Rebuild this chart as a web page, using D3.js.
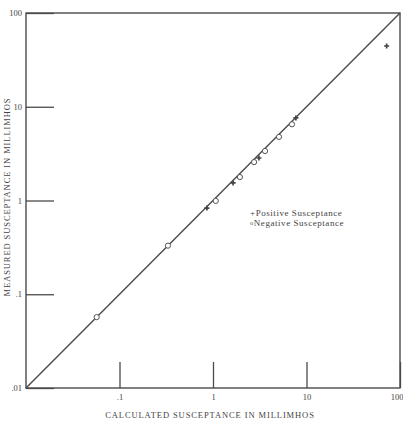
<!DOCTYPE html>
<html><head><meta charset="utf-8">
<script src="https://cdn.jsdelivr.net/npm/d3@7"></script>
<style>
html,body{margin:0;padding:0;background:#fff;}
svg{display:block;}
text{font-family:"Liberation Serif","DejaVu Serif",serif;fill:#444;}
</style></head>
<body>
<svg id="chart" width="403" height="424"></svg>
<script>
// Data
const posCalc = [0.86, 1.64, 3.1, 7.7, 72];
const posMeas = [0.83, 1.54, 2.84, 7.6, 44.5];
const negCalc = [0.057, 0.33, 1.07, 1.94, 2.75, 3.6, 5.08, 7.0];
const negMeas = [0.057, 0.33, 0.99, 1.78, 2.57, 3.37, 4.77, 6.5];
const xTickVals = [0.1, 1, 10, 100];
const xTickLabels = [".1", "1", "10", "100"];
const yTickVals = [0.01, 0.1, 1, 10, 100];
const yTickLabels = [".01", ".1", "1", "10", "100"];
const domain = [0.01, 100];
const xTitle = "CALCULATED SUSCEPTANCE IN MILLIMHOS";
const yTitle = "MEASURED SUSCEPTANCE IN MILLIMHOS";
const legendSymbols = ["+", "o"];
const legendLabels = ["Positive Susceptance", "Negative Susceptance"];

const L = 26, R = 400, T = 13, B = 388;
const svg = d3.select("#chart");
const x = d3.scaleLog().domain(domain).range([L, R]);
const y = d3.scaleLog().domain(domain).range([B, T]);
const ink = "#4a4a4a";

// frame
svg.append("rect").attr("x", L).attr("y", T).attr("width", R - L).attr("height", B - T)
  .attr("fill", "none").attr("stroke", ink).attr("stroke-width", 1.4);

// x axis
const gx = svg.append("g").attr("transform", `translate(0,${B})`)
  .call(d3.axisBottom(x).tickValues(xTickVals).tickSizeInner(-26).tickSizeOuter(0).tickPadding(6)
    .tickFormat((d, i) => xTickLabels[i]));
gx.select(".domain").remove();
gx.selectAll("line").attr("stroke", ink).attr("stroke-width", 1.3);
gx.selectAll("text").attr("font-size", 8.5).attr("fill", "#444").style("font-family", "Liberation Serif, serif")
  .filter(d => d === 100).attr("text-anchor", "end").attr("x", 3);

// y axis
const gy = svg.append("g").attr("transform", `translate(${L},0)`)
  .call(d3.axisLeft(y).tickValues(yTickVals).tickSizeInner(-28).tickSizeOuter(0).tickPadding(4)
    .tickFormat((d, i) => yTickLabels[i]));
gy.select(".domain").remove();
gy.selectAll("line").attr("stroke", ink).attr("stroke-width", 1.3);
gy.selectAll("text").attr("font-size", 8.5).attr("fill", "#444").style("font-family", "Liberation Serif, serif");

// diagonal
svg.append("line").attr("x1", x(domain[0])).attr("y1", y(domain[0]))
  .attr("x2", x(domain[1])).attr("y2", y(domain[1]))
  .attr("stroke", ink).attr("stroke-width", 1.4);

// negative: circles
svg.append("g").selectAll("circle").data(negCalc).join("circle")
  .attr("cx", d => x(d)).attr("cy", (d, i) => y(negMeas[i])).attr("r", 2.6)
  .attr("fill", "#fff").attr("stroke", "#555").attr("stroke-width", 1);

// positive: plus
const plus = d3.symbol().type(d3.symbolCross).size(14);
svg.append("g").selectAll("path").data(posCalc).join("path")
  .attr("transform", (d, i) => `translate(${x(d)},${y(posMeas[i])})`)
  .attr("d", plus).attr("fill", "#444");

// legend
const lt = svg.append("g").selectAll("text").data(legendLabels).join("text")
  .attr("x", 250).attr("y", (d, i) => 216 + i * 10)
  .attr("font-size", 9).attr("letter-spacing", 0.55).attr("fill", "#444");
lt.append("tspan").attr("font-size", (d, i) => i === 0 ? 9 : 6.5).attr("dy", (d, i) => i === 0 ? 0 : -1.5)
  .text((d, i) => legendSymbols[i]);
lt.append("tspan").attr("dy", (d, i) => i === 0 ? 0 : 1.5).text(d => d);

// titles
svg.append("text").attr("x", 210).attr("y", 418).attr("text-anchor", "middle")
  .attr("font-size", 8.5).attr("letter-spacing", 0.9).attr("fill", "#444").text(xTitle);
svg.append("text").attr("transform", "translate(10,197) rotate(-90)").attr("text-anchor", "middle")
  .attr("font-size", 8.5).attr("letter-spacing", 0.9).attr("fill", "#444").text(yTitle);
</script>
</body></html>
